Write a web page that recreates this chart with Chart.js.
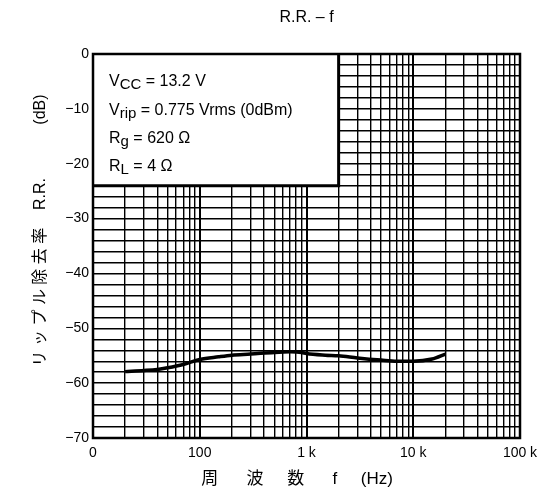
<!DOCTYPE html>
<html>
<head>
<meta charset="utf-8">
<script src="https://cdn.jsdelivr.net/npm/chart.js@4.4.1/dist/chart.umd.min.js"></script>
<style>
  html, body { margin: 0; padding: 0; background: #fff; }
  #wrap { width: 547px; height: 500px; }
</style>
</head>
<body>
<div id="wrap"><canvas id="c" width="547" height="500"></canvas></div>
<script>
// ---- data ----
const freqHz = [20, 30, 40, 50, 70, 100, 150, 200, 300, 500, 700, 900, 1000, 1500, 2000, 3000, 5000, 7000, 10000, 15000, 20000];
const rrDb   = [-57.9, -57.7, -57.5, -57.2, -56.6, -55.7, -55.2, -54.9, -54.7, -54.4, -54.3, -54.4, -54.6, -54.9, -55.0, -55.4, -55.8, -56.0, -56.0, -55.6, -54.7];

const xDecades    = [10, 100, 1000, 10000, 100000];
const xTickLabels = ['0', '100', '1 k', '10 k', '100 k'];
const xMinorSteps = [2, 3, 4, 5, 6, 7, 8, 9];
const yMajor      = [0, -10, -20, -30, -40, -50, -60, -70];
const yTickLabels = ['0', '\u221210', '\u221220', '\u221230', '\u221240', '\u221250', '\u221260', '\u221270'];

const titleText  = 'R.R. \u2013 f';
const xTitleText = '\u5468      \u6ce2     \u6570      f     (Hz)    ';
const yTitleText = '       \u30ea \u30c3 \u30d7 \u30eb \u9664 \u53bb \u7387    R.R.            (dB)';

const condLines = [
  [['V', 0], ['CC', 1], [' = 13.2 V', 0]],
  [['V', 0], ['rip', 1], [' = 0.775 Vrms (0dBm)', 0]],
  [['R', 0], ['g', 1], [' = 620 \u03a9', 0]],
  [['R', 0], ['L', 1], [' = 4 \u03a9', 0]]
];
const condBoxXMax = 2000;
const condBoxYMin = -24;

// ---- build grid tick values ----
const xGridVals = [];
xDecades.forEach((d, i) => {
  xGridVals.push(d);
  if (i < xDecades.length - 1) xMinorSteps.forEach(m => xGridVals.push(d * m));
});

const FONT = "'Liberation Sans', Arial, 'Noto Sans CJK JP', sans-serif";

const condBoxPlugin = {
  id: 'condBox',
  beforeDatasetsDraw(chart) {
    const {ctx, scales: {x, y}} = chart;
    const l = x.getPixelForValue(10), r = x.getPixelForValue(condBoxXMax);
    const t = y.getPixelForValue(0), b = y.getPixelForValue(condBoxYMin);
    ctx.save();
    ctx.fillStyle = '#fff';
    ctx.fillRect(l, t, r - l, b - t);
    ctx.strokeStyle = '#000';
    ctx.lineWidth = 3;
    ctx.beginPath();
    ctx.moveTo(r, t); ctx.lineTo(r, b); ctx.lineTo(l, b);
    ctx.stroke();
    ctx.fillStyle = '#000';
    ctx.textBaseline = 'alphabetic';
    const baseOffsets = [31.5, 61, 89, 117];
    condLines.forEach((segs, i) => {
      let cx = l + 16;
      const by = t + baseOffsets[i];
      segs.forEach(([txt, sub]) => {
        ctx.font = (sub ? '15px ' : '16px ') + FONT;
        ctx.fillText(txt, cx, by + (sub ? 3 : 0));
        cx += ctx.measureText(txt).width;
      });
    });
    ctx.restore();
  },
  afterDatasetsDraw(chart) {
    const {ctx, chartArea: a} = chart;
    ctx.save();
    ctx.strokeStyle = '#000';
    ctx.lineWidth = 2.5;
    ctx.strokeRect(a.left, a.top, a.right - a.left, a.bottom - a.top);
    ctx.restore();
  }
};

new Chart(document.getElementById('c'), {
  type: 'line',
  data: {
    datasets: [{
      data: freqHz.map((f, i) => ({x: f, y: rrDb[i]})),
      borderColor: '#000',
      borderWidth: 3.5,
      pointRadius: 0,
      fill: false,
      cubicInterpolationMode: 'monotone'
    }]
  },
  options: {
    responsive: false,
    animation: false,
    devicePixelRatio: 1,
    layout: { padding: { left: 0, right: 27, top: 0, bottom: 0 } },
    plugins: {
      legend: { display: false },
      tooltip: { enabled: false },
      title: {
        display: true,
        text: titleText,
        fullSize: false,
        color: '#000',
        font: { family: FONT, size: 16, weight: 'normal' },
        padding: { top: 8, bottom: 26.8 }
      }
    },
    scales: {
      x: {
        type: 'logarithmic',
        min: 10,
        max: 100000,
        afterBuildTicks: (scale) => { scale.ticks = xGridVals.map(v => ({value: v})); },
        afterFit: (scale) => { scale.height = 62; },
        ticks: {
          autoSkip: false,
          maxRotation: 0,
          minRotation: 0,
          padding: 7,
          color: '#000',
          font: { family: FONT, size: 14 },
          callback: (v) => { const i = xDecades.indexOf(v); return i >= 0 ? xTickLabels[i] : ''; }
        },
        grid: {
          color: '#000',
          drawTicks: false,
          lineWidth: (ctx) => (ctx.tick && xDecades.includes(ctx.tick.value)) ? 2 : 1.4
        },
        border: { display: false },
        title: {
          display: true,
          text: xTitleText,
          color: '#000',
          font: { family: FONT, size: 17 },
          padding: { top: 0, bottom: 10 }
        }
      },
      y: {
        min: -70,
        max: 0,
        afterFit: (scale) => { scale.width = 93; },
        ticks: {
          stepSize: 2,
          autoSkip: false,
          padding: 4,
          color: '#000',
          font: { family: FONT, size: 14 },
          callback: (v) => { const i = yMajor.indexOf(v); return i >= 0 ? yTickLabels[i] : ''; }
        },
        grid: {
          color: '#000',
          drawTicks: false,
          lineWidth: 1.4
        },
        border: { display: false },
        title: {
          display: true,
          text: yTitleText,
          color: '#000',
          font: { family: FONT, size: 16 },
          padding: { top: 31, bottom: 0 }
        }
      }
    }
  },
  plugins: [condBoxPlugin]
});
</script>
</body>
</html>
